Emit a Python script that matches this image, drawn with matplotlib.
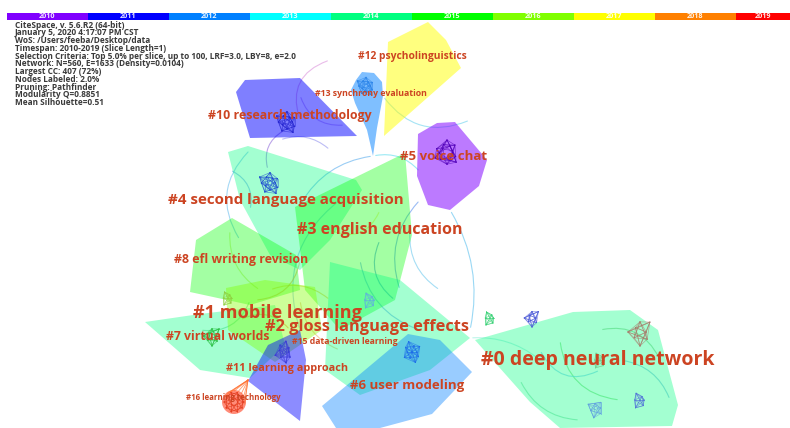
import numpy as np
import matplotlib
matplotlib.use("Agg")
import matplotlib.pyplot as plt
from matplotlib.patches import Polygon, FancyArrowPatch, Circle

W, H = 790, 428

# Timeline of slices and their colours
years = ["2010", "2011", "2012", "2013", "2014", "2015", "2016", "2017", "2018", "2019"]
year_colors = ["#8000FF", "#0000FF", "#0080FF", "#00FFFF", "#00FF80",
               "#00FF00", "#80FF00", "#FFFF00", "#FF8000", "#FF0000"]

info_lines = [
    "CiteSpace, v. 5.6.R2 (64-bit)",
    "January 5, 2020 4:17:07 PM CST",
    "WoS: /Users/feeba/Desktop/data",
    "Timespan: 2010-2019 (Slice Length=1)",
    "Selection Criteria: Top 5.0% per slice, up to 100, LRF=3.0, LBY=8, e=2.0",
    "Network: N=560, E=1633 (Density=0.0104)",
    "Largest CC: 407 (72%)",
    "Nodes Labeled: 2.0%",
    "Pruning: Pathfinder",
    "Modularity Q=0.8851",
    "Mean Silhouette=0.51",
]

# Cluster labels
cluster_labels = ["#0 deep neural network", "#1 mobile learning", "#2 gloss language effects",
                  "#3 english education", "#4 second language acquisition", "#5 voice chat",
                  "#6 user modeling", "#7 virtual worlds", "#8 efl writing revision",
                  "#10 research methodology", "#11 learning approach", "#12 psycholinguistics",
                  "#13 synchrony evaluation", "#15 data-driven learning", "#16 learning technology"]

# Cluster hulls (layout coordinates)
hull_4 = [(228, 152), (248, 146), (356, 180), (362, 190), (330, 240), (300, 270), (270, 255), (240, 200)]
hull_3 = [(295, 207), (405, 153), (412, 235), (395, 300), (340, 330), (305, 290)]
hull_8 = [(232, 218), (196, 240), (190, 292), (250, 305), (300, 290), (296, 255)]
hull_1 = [(226, 288), (265, 280), (315, 287), (322, 330), (275, 362), (228, 330)]
hull_7 = [(145, 322), (200, 314), (275, 305), (285, 345), (250, 378), (200, 370)]
hull_2 = [(330, 262), (400, 280), (470, 338), (430, 370), (360, 395), (325, 370)]
hull_6 = [(322, 406), (408, 334), (440, 340), (472, 372), (432, 414), (380, 428), (336, 428)]
hull_11 = [(248, 381), (268, 345), (300, 330), (306, 360), (300, 421)]
hull_10 = [(245, 80), (300, 78), (357, 136), (250, 138), (236, 92)]
hull_13 = [(356, 80), (362, 72), (374, 73), (382, 82), (383, 96), (377, 128), (373, 156), (367, 130), (355, 103), (351, 90)]
hull_12 = [(428, 22), (388, 42), (384, 136), (461, 68), (446, 40)]
hull_5 = [(418, 134), (437, 123), (455, 122), (487, 160), (479, 186), (450, 210), (428, 205), (417, 176)]
hull_0 = [(475, 340), (573, 312), (630, 310), (658, 330), (678, 405), (672, 426), (560, 428), (530, 402)]

hulls = [
    (hull_4, "2014", 0.36), (hull_3, "2015", 0.36), (hull_8, "2015", 0.36),
    (hull_7, "2014", 0.36), (hull_2, "2014", 0.36), (hull_1, "2016", 0.40),
    (hull_6, "2012", 0.40), (hull_11, "2011", 0.45), (hull_10, "2011", 0.50),
    (hull_13, "2012", 0.50), (hull_12, "2017", 0.50), (hull_5, "2010", 0.52),
    (hull_0, "2014", 0.36),
]

# Label anchors (left edge, vertical centre) and rendered widths
label_x = [481, 193, 265, 297, 168, 400, 350, 166, 174, 208, 226, 358, 315, 292, 186]
label_y = [360, 313, 327, 230, 200, 157, 386, 337, 259, 115, 368, 56, 93, 342, 397]
label_w = [233, 169, 204, 165, 236, 87, 114, 104, 135, 165, 122, 109, 112, 106, 95]

# Dense node meshes: centre x, centre y, radius, colour, points
meshes = [
    (447, 153, 13, "#5000b8", 16), (287, 122, 12, "#2424d0", 12), (270, 183, 12, "#1c48d0", 12),
    (366, 86, 10, "#2a84ea", 12), (412, 352, 11, "#1c6cea", 10), (532, 318, 9, "#4a58d8", 8),
    (640, 332, 14, "#a87868", 8), (212, 336, 10, "#28c040", 8), (284, 352, 11, "#3a3ad8", 9),
    (596, 408, 10, "#60a0e0", 7), (640, 400, 9, "#5070d8", 6), (490, 318, 8, "#30d070", 6),
    (228, 298, 8, "#90d040", 6), (370, 300, 9, "#60b0e0", 6), (600, 360, 9, "#70d090", 6),
]

# Curved links between clusters: start, end, curvature, colour
links = [
    ((373, 156), (300, 205), 0.25, "#70b8f0"), ((373, 156), (420, 172), -0.3, "#70e0f0"),
    ((285, 130), (268, 170), 0.4, "#a080e0"), ((300, 120), (330, 60), -0.5, "#e0a0e0"),
    ((420, 200), (400, 290), 0.3, "#70a0f0"), ((340, 200), (300, 330), 0.35, "#90c0f0"),
    ((250, 150), (240, 240), 0.4, "#80c8f0"), ((383, 96), (470, 120), 0.4, "#80d8f0"),
    ((280, 140), (330, 150), -0.3, "#a0a0f0"), ((360, 260), (420, 330), 0.3, "#80b0f0"),
    ((450, 210), (470, 330), -0.2, "#70c8f0"), ((230, 230), (260, 290), 0.3, "#d0f080"),
    ((270, 290), (330, 300), -0.3, "#f0d070"), ((300, 300), (340, 350), 0.3, "#f0c080"),
    ((330, 230), (380, 210), 0.5, "#f0f080"), ((200, 330), (250, 300), 0.4, "#80e0a0"),
    ((470, 338), (540, 360), -0.2, "#a0f0e0"), ((560, 340), (620, 400), 0.4, "#80e080"),
    ((600, 330), (660, 360), -0.4, "#90d090"), ((520, 380), (580, 420), 0.3, "#90e0b0"),
    ((540, 350), (600, 370), 0.5, "#80d0f0"), ((620, 360), (670, 400), -0.3, "#80c0e0"),
    ((255, 300), (300, 260), 0.4, "#f0b070"), ((240, 320), (290, 330), -0.4, "#f0a060"),
    ((380, 240), (395, 300), 0.4, "#60a0e0"), ((300, 95), (345, 125), 0.4, "#c0a0f0"),
    ((230, 170), (250, 210), -0.4, "#80b0f0"), ((410, 230), (440, 290), 0.3, "#80d0f0"),
]

fig = plt.figure(figsize=(W / 100, H / 100), dpi=100)
ax = fig.add_axes([0, 0, 1, 1])
ax.set_xlim(0, W)
ax.set_ylim(H, 0)
ax.axis("off")

color_of = dict(zip(years, year_colors))
fig.canvas.draw()
renderer = fig.canvas.get_renderer()


def fitted_text(x, y, s, width, **kw):
    t = ax.text(x, y, s, fontsize=10, ha="left", va="center", **kw)
    bb = t.get_window_extent(renderer)
    t.set_fontsize(10 * width / bb.width)
    return t


# timeline bar
bar_x0, seg_w = 7, 81
for i, (yr, c) in enumerate(zip(years, year_colors)):
    x0 = bar_x0 + i * seg_w
    x1 = min(x0 + seg_w, W)
    ax.add_patch(plt.Rectangle((x0, 13), x1 - x0, 6.5, color=c, lw=0, zorder=5))
    ax.text((x0 + x1) / 2, 16.3, yr, color="white", fontsize=5.2, ha="center", va="center",
            family="Open Sans", fontweight="bold", alpha=0.9, zorder=6)

# header block
t0 = fitted_text(15, 25, info_lines[4], 280, color="#3a3a3a", family="Open Sans",
                 fontweight="bold", zorder=6)
info_fs = t0.get_fontsize()
t0.remove()
for i, line in enumerate(info_lines):
    ax.text(15, 25 + i * 7.75, line, fontsize=info_fs, color="#3a3a3a", ha="left", va="center",
            family="Open Sans", fontweight="bold", zorder=6)

# links
for (p0, p1, rad, c) in links:
    ax.add_patch(FancyArrowPatch(p0, p1, connectionstyle=f"arc3,rad={rad}", arrowstyle="-",
                                 color=c, lw=0.8, alpha=0.7, zorder=1))

# hulls
for pts, yr, a in hulls:
    ax.add_patch(Polygon(pts, closed=True, facecolor=color_of[yr], edgecolor="none",
                         alpha=a, zorder=2))

# meshes
for cx, cy, r, c, n in meshes:
    ang = np.linspace(0, 2 * np.pi, n, endpoint=False)
    rr = r * (0.45 + 0.55 * (np.arange(n) * 7 % 5) / 4)
    px = cx + rr * np.cos(ang)
    py = cy + rr * np.sin(ang)
    for k in range(n):
        for s in (1, 2, 3, 5):
            j = (k + s) % n
            ax.plot([px[k], px[j]], [py[k], py[j]], color=c, lw=0.5, alpha=0.6, zorder=3)

# learning technology blob with fan
ax.add_patch(Circle((234, 402), 12, color="#FF4020", alpha=0.6, lw=0, zorder=3))
fan_ang = np.linspace(-2.6, 0.2, 9)
for a in fan_ang:
    ax.plot([248, 234 + 11 * np.cos(a)], [380, 402 + 11 * np.sin(a)], color="#FF7030",
            lw=0.6, alpha=0.7, zorder=3)
ang = np.linspace(0, 2 * np.pi, 10, endpoint=False)
bx, by = 234 + 10 * np.cos(ang), 402 + 10 * np.sin(ang)
for k in range(10):
    for s in (2, 4):
        j = (k + s) % 10
        ax.plot([bx[k], bx[j]], [by[k], by[j]], color="#E03010", lw=0.5, alpha=0.7, zorder=3)

# cluster labels, scaled to their widths
for txt, x, y, w in zip(cluster_labels, label_x, label_y, label_w):
    fitted_text(x, y, txt, w, color="#CC4422", family="Open Sans", fontweight="bold", zorder=7)

fig.savefig("out.png", dpi=100)
